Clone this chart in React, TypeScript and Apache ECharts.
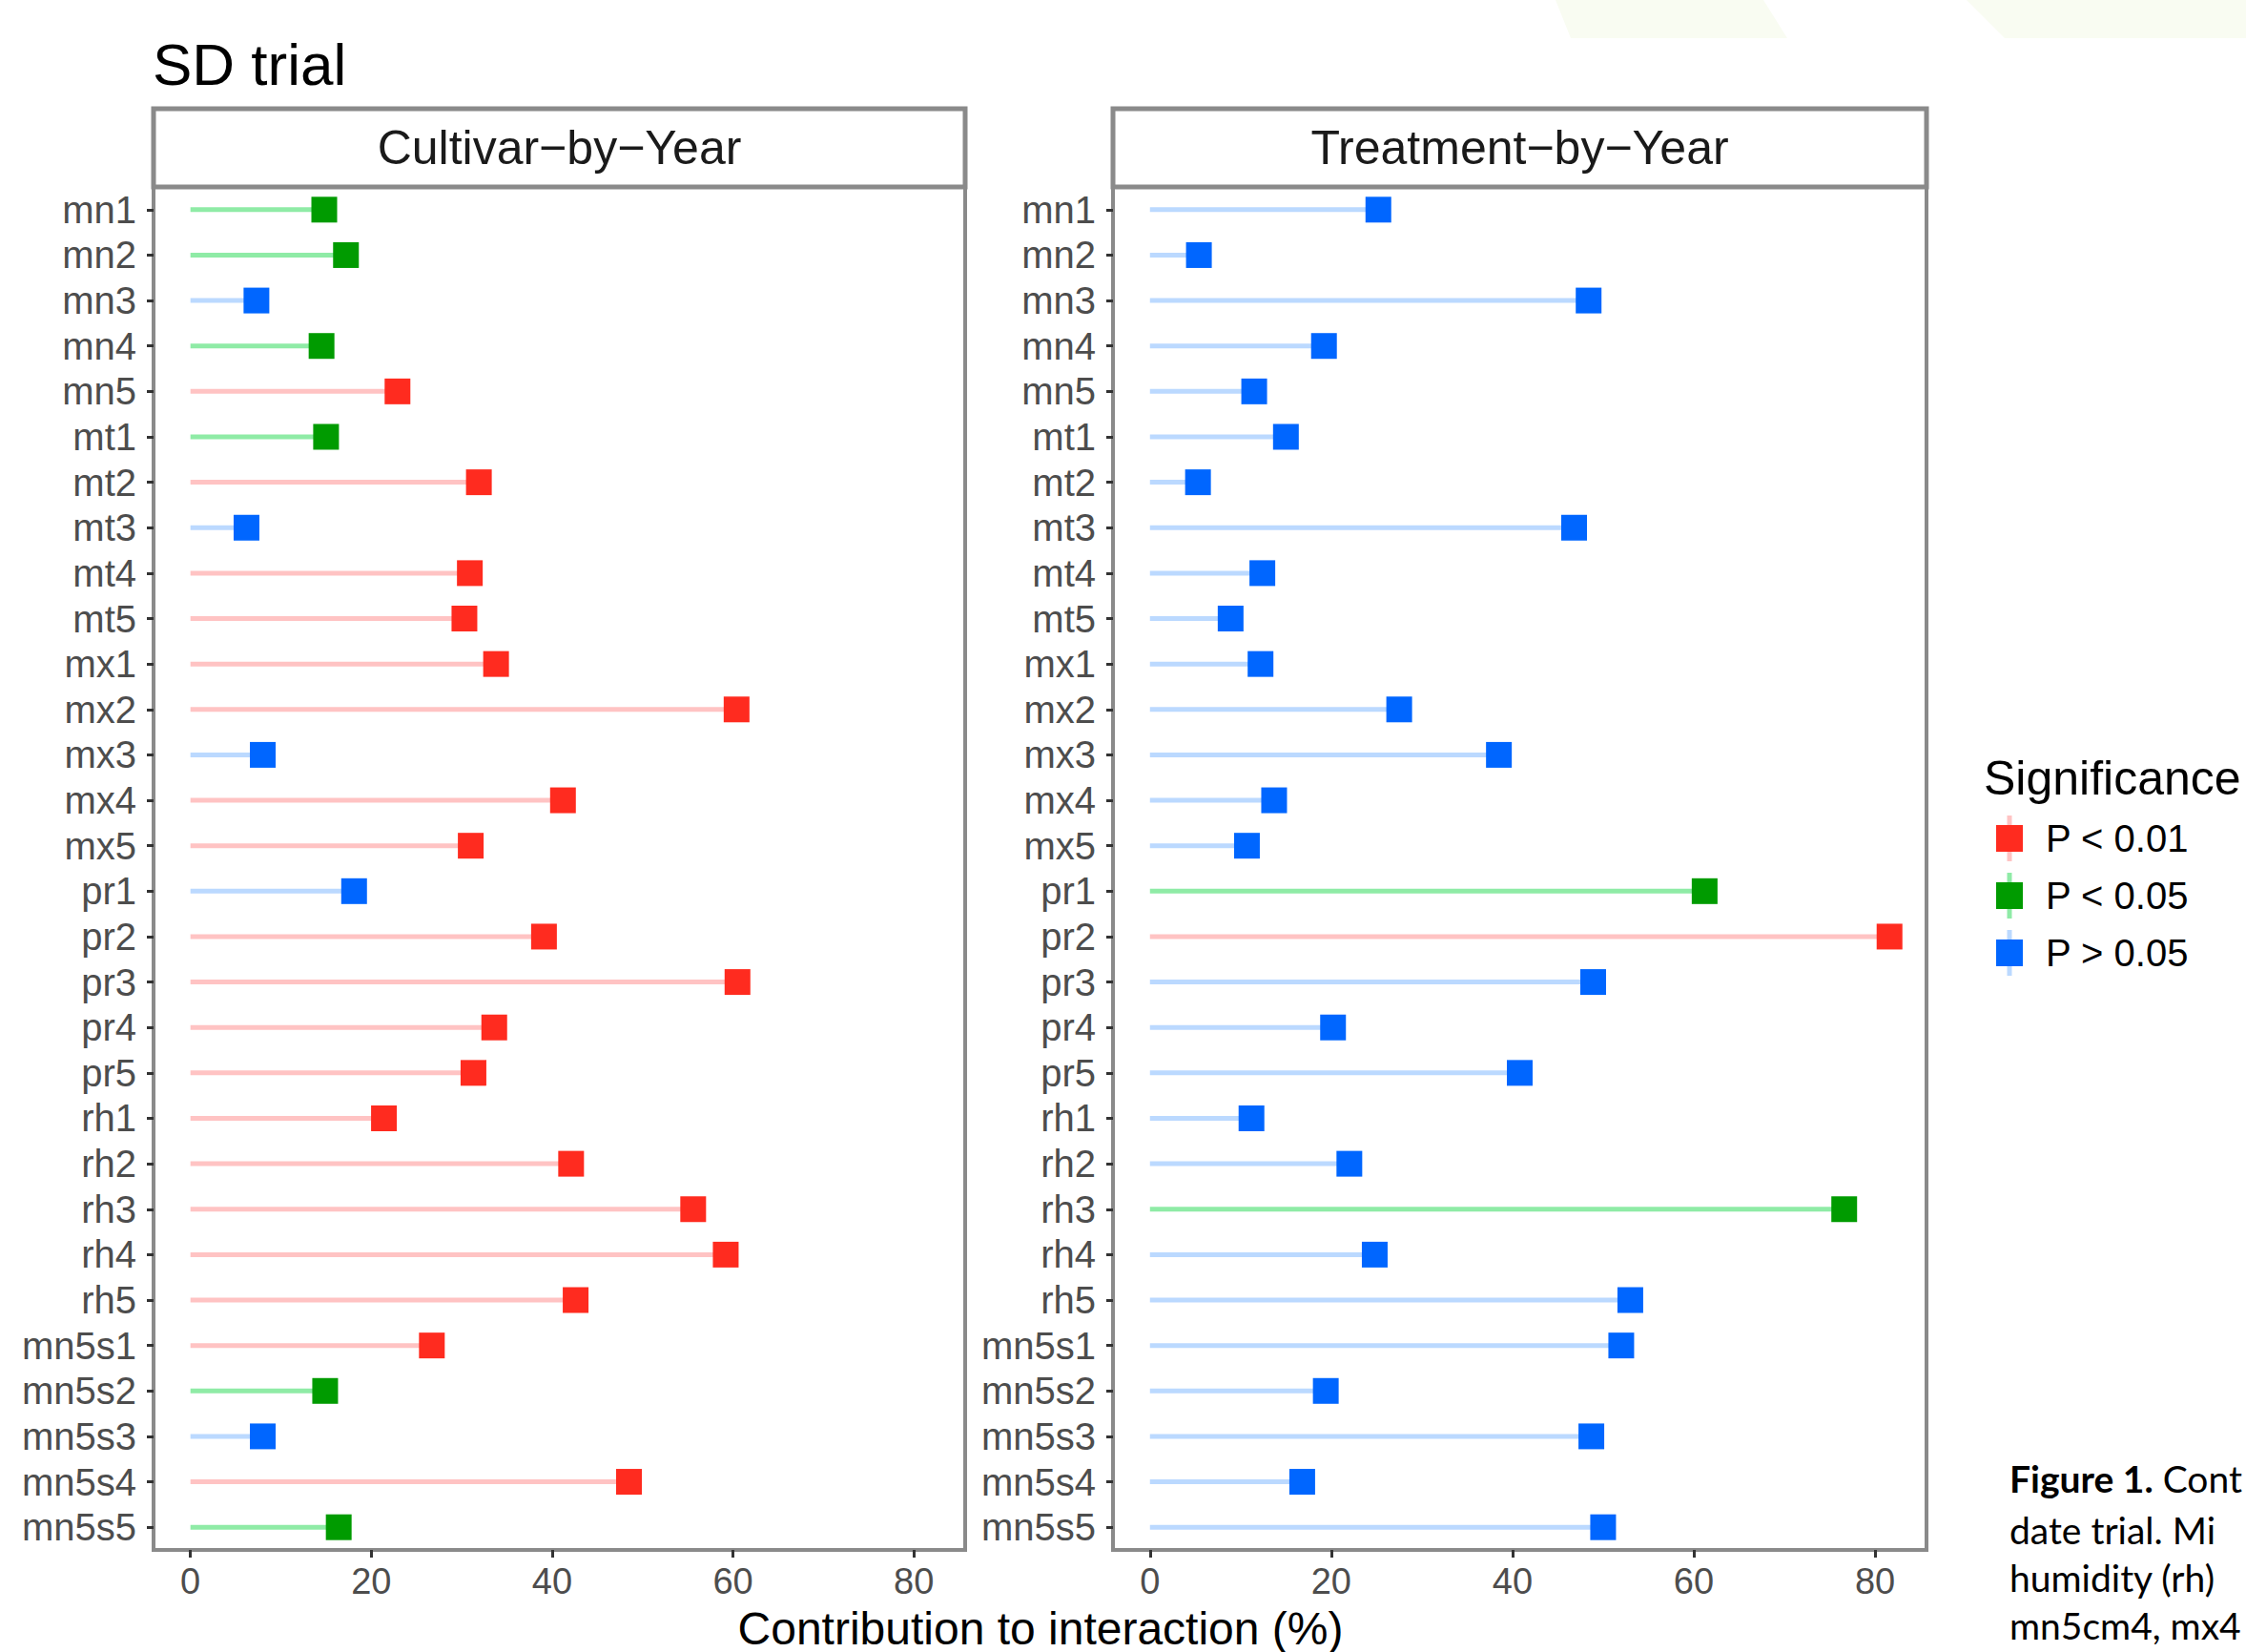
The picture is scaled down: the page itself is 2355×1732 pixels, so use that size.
import React, { useEffect, useRef } from "react";
import * as echarts from "echarts";

const categories = [
  "mn1", "mn2", "mn3", "mn4", "mn5",
  "mt1", "mt2", "mt3", "mt4", "mt5",
  "mx1", "mx2", "mx3", "mx4", "mx5",
  "pr1", "pr2", "pr3", "pr4", "pr5",
  "rh1", "rh2", "rh3", "rh4", "rh5",
  "mn5s1", "mn5s2", "mn5s3", "mn5s4", "mn5s5",
];

const cultivarValues = [
  14.8, 17.2, 7.3, 14.5, 22.9,
  15.0, 31.9, 6.2, 30.9, 30.3,
  33.8, 60.4, 8.0, 41.2, 31.0,
  18.1, 39.1, 60.5, 33.6, 31.3,
  21.4, 42.1, 55.6, 59.2, 42.6,
  26.7, 14.9, 8.0, 48.5, 16.4,
];
const cultivarSig = [
  "P < 0.05", "P < 0.05", "P > 0.05", "P < 0.05", "P < 0.01",
  "P < 0.05", "P < 0.01", "P > 0.05", "P < 0.01", "P < 0.01",
  "P < 0.01", "P < 0.01", "P > 0.05", "P < 0.01", "P < 0.01",
  "P > 0.05", "P < 0.01", "P < 0.01", "P < 0.01", "P < 0.01",
  "P < 0.01", "P < 0.01", "P < 0.01", "P < 0.01", "P < 0.01",
  "P < 0.01", "P < 0.05", "P > 0.05", "P < 0.01", "P < 0.05",
];

const treatmentValues = [
  25.2, 5.4, 48.4, 19.2, 11.5,
  15.0, 5.3, 46.8, 12.4, 8.9,
  12.2, 27.5, 38.5, 13.7, 10.7,
  61.2, 81.6, 48.9, 20.2, 40.8,
  11.2, 22.0, 76.6, 24.8, 53.0,
  52.0, 19.4, 48.7, 16.8, 50.0,
];
const treatmentSig = [
  "P > 0.05", "P > 0.05", "P > 0.05", "P > 0.05", "P > 0.05",
  "P > 0.05", "P > 0.05", "P > 0.05", "P > 0.05", "P > 0.05",
  "P > 0.05", "P > 0.05", "P > 0.05", "P > 0.05", "P > 0.05",
  "P < 0.05", "P < 0.01", "P > 0.05", "P > 0.05", "P > 0.05",
  "P > 0.05", "P > 0.05", "P < 0.05", "P > 0.05", "P > 0.05",
  "P > 0.05", "P > 0.05", "P > 0.05", "P > 0.05", "P > 0.05",
];

const panelTitles = ["Cultivar\u2212by\u2212Year", "Treatment\u2212by\u2212Year"];
const sigLevels = ["P < 0.01", "P < 0.05", "P > 0.05"];
const markerColors = ["#FF2B1F", "#009B00", "#0066FF"];
const segmentColors = ["#FFC3C3", "#8FEBA6", "#BBD9FF"];
const xTicks = [0, 20, 40, 60, 80];
const captionLines = ["date trial. Mi", "humidity (rh)", "mn5cm4, mx4"];

const FONT = "'Liberation Sans', Arial, Helvetica, sans-serif";
const CAP_FONT = "Lato, 'Open Sans', sans-serif";

export default function App() {
  const ref = useRef<HTMLDivElement>(null);

  useEffect(() => {
    if (!ref.current) return;
    const chart = echarts.init(ref.current, null, { renderer: "svg" });

    const panels = [
      { left: 161, width: 851, values: cultivarValues, sig: cultivarSig },
      { left: 1167, width: 853, values: treatmentValues, sig: treatmentSig },
    ];
    const top = 196;
    const bottom = 1625;

    const grids = panels.map((p) => ({
      left: p.left,
      top,
      width: p.width,
      height: bottom - top,
      show: true,
      borderColor: "#8a8a8a",
      borderWidth: 4,
      backgroundColor: "#ffffff",
    }));

    const allVals = cultivarValues.concat(treatmentValues);
    const maxV = Math.max(...allVals);
    const pad = maxV * 0.05;

    const xAxes = panels.map((_, i) => ({
      type: "value",
      gridIndex: i,
      min: -pad,
      max: maxV + pad,
      axisLine: { show: false, onZero: false },
      splitLine: { show: false },
      axisTick: {
        show: true,
        length: 8,
        customValues: xTicks,
        lineStyle: { color: "#333333", width: 3 },
      },
      axisLabel: {
        customValues: xTicks,
        fontSize: 38,
        fontFamily: FONT,
        color: "#4d4d4d",
        margin: 14,
      },
    }));

    const yAxes = panels.map((_, i) => ({
      type: "category",
      gridIndex: i,
      data: categories,
      inverse: true,
      axisLine: { show: false, onZero: false },
      splitLine: { show: false },
      axisTick: {
        show: true,
        length: 7,
        interval: 0,
        alignWithLabel: true,
        lineStyle: { color: "#333333", width: 3 },
      },
      axisLabel: {
        interval: 0,
        fontSize: 40,
        fontFamily: FONT,
        color: "#4d4d4d",
        margin: 18,
      },
    }));

    const series: any[] = [];
    panels.forEach((p, pi) => {
      sigLevels.forEach((lvl, li) => {
        series.push({
          type: "bar",
          name: lvl,
          xAxisIndex: pi,
          yAxisIndex: pi,
          barWidth: 5,
          barGap: "-100%",
          itemStyle: { color: segmentColors[li] },
          z: 2,
          data: p.values.map((v, k) => (p.sig[k] === lvl ? v : "-")),
        });
      });
      sigLevels.forEach((lvl, li) => {
        series.push({
          type: "scatter",
          name: lvl,
          xAxisIndex: pi,
          yAxisIndex: pi,
          symbol: "rect",
          symbolSize: 27,
          itemStyle: { color: markerColors[li], opacity: 1 },
          z: 3,
          data: p.values
            .map((v, k) => (p.sig[k] === lvl ? [v, categories[k]] : null))
            .filter((d) => d !== null),
        });
      });
    });

    const graphic: any[] = [];
    // faint background shapes at the top right
    graphic.push({
      type: "polygon",
      shape: { points: [[1631, 0], [1849, 0], [1874, 40], [1647, 40]] },
      style: { fill: "#F9FCF2" },
      silent: true,
      z: 0,
    });
    graphic.push({
      type: "polygon",
      shape: { points: [[2062, 0], [2355, 0], [2355, 40], [2102, 40]] },
      style: { fill: "#F9FCF2" },
      silent: true,
      z: 0,
    });
    // title
    graphic.push({
      type: "text",
      left: 160,
      top: 36,
      style: { text: "SD trial", font: `62px ${FONT}`, fill: "#000000" },
    });
    // strips
    panels.forEach((p, i) => {
      graphic.push({
        type: "rect",
        shape: { x: p.left, y: 114, width: p.width, height: top - 114 },
        style: { fill: "#ffffff", stroke: "#8a8a8a", lineWidth: 5 },
        z: 10,
      });
      graphic.push({
        type: "text",
        x: p.left + p.width / 2,
        y: (114 + top) / 2,
        style: {
          text: panelTitles[i],
          font: `50px ${FONT}`,
          fill: "#1a1a1a",
          textAlign: "center",
          textVerticalAlign: "middle",
        },
        z: 11,
      });
    });
    // x axis title
    graphic.push({
      type: "text",
      x: 1091,
      y: 1707,
      style: {
        text: "Contribution to interaction (%)",
        font: `48px ${FONT}`,
        fill: "#000000",
        textAlign: "center",
        textVerticalAlign: "middle",
      },
    });
    // legend
    graphic.push({
      type: "text",
      x: 2080,
      y: 816,
      style: {
        text: "Significance",
        font: `50px ${FONT}`,
        fill: "#000000",
        textVerticalAlign: "middle",
      },
    });
    sigLevels.forEach((lvl, li) => {
      const cy = 879 + li * 60;
      graphic.push({
        type: "line",
        shape: { x1: 2107, y1: cy - 24, x2: 2107, y2: cy + 24 },
        style: { stroke: segmentColors[li], lineWidth: 5 },
      });
      graphic.push({
        type: "rect",
        shape: { x: 2107 - 14, y: cy - 14, width: 28, height: 28 },
        style: { fill: markerColors[li] },
      });
      graphic.push({
        type: "text",
        x: 2145,
        y: cy,
        style: {
          text: lvl,
          font: `40px ${FONT}`,
          fill: "#000000",
          textVerticalAlign: "middle",
        },
      });
    });
    // caption
    graphic.push({
      type: "text",
      x: 2107,
      y: 1550,
      style: {
        text: "{b|Figure 1.} Cont",
        font: `39px ${CAP_FONT}`,
        fill: "#000000",
        textVerticalAlign: "middle",
        rich: {
          b: { fontWeight: "bold", fontSize: 39, fontFamily: CAP_FONT, fill: "#000000" },
        },
      },
    });
    captionLines.forEach((line, i) => {
      graphic.push({
        type: "text",
        x: 2107,
        y: 1604 + i * 50,
        style: {
          text: line,
          font: `39px ${CAP_FONT}`,
          fill: "#000000",
          textVerticalAlign: "middle",
        },
      });
    });

    chart.setOption({
      animation: false,
      backgroundColor: "#ffffff",
      textStyle: { fontFamily: FONT },
      grid: grids,
      xAxis: xAxes,
      yAxis: yAxes,
      series,
      graphic,
    });

    return () => chart.dispose();
  }, []);

  return (
    <div
      ref={ref}
      style={{ position: "fixed", left: 0, top: 0, width: 2355, height: 1732, background: "#fff" }}
    />
  );
}
